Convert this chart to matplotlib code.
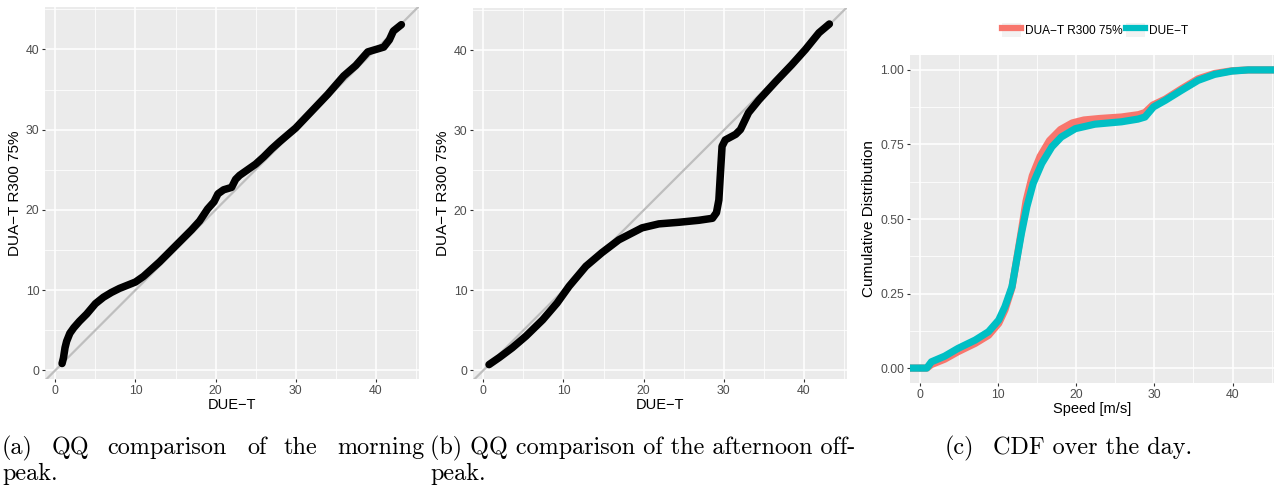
import matplotlib
matplotlib.use("Agg")
import matplotlib.pyplot as plt
from matplotlib.lines import Line2D
from matplotlib.patches import Patch
from matplotlib.legend_handler import HandlerTuple
from matplotlib.font_manager import FontProperties

# QQ data, morning peak (DUE-T quantiles vs DUA-T R300 75% quantiles)
morning_due = [0.83, 1.0, 1.2, 1.4, 1.8, 2.3, 3.0, 3.9, 5.0, 6.0, 7.0, 8.0, 9.0,
               10.0, 11.0, 12.0, 13.0, 14.0, 15.0, 16.0, 17.0, 18.0, 19.0, 19.8,
               20.3, 21.0, 22.0, 22.5, 23.0, 24.0, 25.0, 26.0, 27.0, 28.0, 30.0,
               32.0, 34.0, 36.0, 37.5, 39.0, 40.0, 41.0, 41.7, 42.2, 43.2]
morning_dua = [0.83, 1.5, 2.8, 3.6, 4.6, 5.3, 6.1, 7.0, 8.3, 9.1, 9.7, 10.2, 10.6,
               11.0, 11.7, 12.6, 13.5, 14.5, 15.5, 16.5, 17.5, 18.6, 20.1, 21.0,
               22.0, 22.5, 22.8, 23.8, 24.3, 25.0, 25.7, 26.6, 27.6, 28.5, 30.2,
               32.3, 34.4, 36.7, 38.0, 39.7, 40.0, 40.3, 41.2, 42.3, 43.1]

# QQ data, afternoon off-peak
afternoon_due = [0.7, 2.0, 3.6, 5.3, 7.4, 9.2, 10.7, 12.8, 14.8, 16.9, 19.8, 21.9,
                 24.4, 26.9, 28.6, 29.1, 29.4, 29.6, 29.8, 30.2, 31.5, 32.1, 33.1,
                 34.4, 36.5, 38.5, 40.2, 41.9, 43.2]
afternoon_dua = [0.7, 1.6, 2.8, 4.25, 6.3, 8.4, 10.5, 13.0, 14.7, 16.3, 17.8, 18.3,
                 18.5, 18.75, 19.0, 19.7, 21.3, 24.7, 28.0, 28.8, 29.5, 30.1, 32.2,
                 33.8, 36.1, 38.2, 40.1, 42.2, 43.3]

# CDF over the day
cdf_labels = ["DUA\u2212T R300 75%", "DUE\u2212T"]
cdf_colors = ["#F8766D", "#00BFC4"]
dua_speed = [-2, 0.9, 1.5, 3.2, 4.9, 7.1, 8.8, 10.1, 10.9, 11.8, 12.4, 13.0, 13.6,
             14.4, 15.4, 16.6, 18.0, 19.5, 21.0, 23.0, 25.8, 28.0, 28.8, 29.8,
             31.4, 33.5, 35.6, 37.7, 39.9, 42.0, 47]
dua_cdf = [0.0, 0.0, 0.012, 0.03, 0.055, 0.083, 0.11, 0.15, 0.195, 0.27, 0.365,
           0.46, 0.56, 0.645, 0.71, 0.763, 0.80, 0.822, 0.832, 0.837, 0.842, 0.85,
           0.857, 0.882, 0.902, 0.937, 0.97, 0.988, 0.997, 1.0, 1.0]
due_speed = [-2, 0.9, 1.5, 3.2, 4.9, 7.1, 8.8, 10.1, 10.9, 11.8, 12.4, 13.0, 13.7,
             14.5, 15.6, 16.9, 18.1, 19.9, 22.4, 25.8, 27.9, 28.8, 29.9, 31.4,
             33.5, 35.6, 37.7, 39.9, 42.0, 47]
due_cdf = [0.0, 0.0, 0.021, 0.04, 0.066, 0.094, 0.122, 0.161, 0.206, 0.273, 0.362,
           0.451, 0.541, 0.619, 0.686, 0.742, 0.775, 0.803, 0.818, 0.826, 0.835,
           0.842, 0.876, 0.898, 0.932, 0.965, 0.985, 0.996, 1.0, 1.0]

# caption (a) is justified in the source, so its words get their own x (pixels)
caption_a_words = ["(a)", "QQ", "comparison", "of", "the", "morning"]
caption_a_x = [2, 52, 107, 247, 283, 337]
caption_b = "(b) QQ comparison of the afternoon off-"
caption_c = ["(c)", "CDF over the day."]

SANS = "Liberation Sans"
TICK_GRAY = "#4D4D4D"
W, H = 1276, 492


def gg_style(ax, xlim, ylim, xmajor, ymajor, xminor, yminor):
    # ggplot2 theme_gray look
    ax.set_facecolor("#EBEBEB")
    for s in ax.spines.values():
        s.set_visible(False)
    ax.set_xlim(*xlim)
    ax.set_ylim(*ylim)
    ax.set_xticks(xmajor)
    ax.set_yticks(ymajor)
    ax.set_xticks(xminor, minor=True)
    ax.set_yticks(yminor, minor=True)
    ax.grid(which="major", color="white", lw=1.1)
    ax.grid(which="minor", color="white", lw=0.55)
    ax.set_axisbelow(True)
    ax.tick_params(which="major", length=2.5, width=0.8, color="#333333",
                   labelsize=8.8, labelcolor=TICK_GRAY, pad=1.5)
    ax.tick_params(which="minor", length=0)
    for lab in ax.get_xticklabels() + ax.get_yticklabels():
        lab.set_fontfamily(SANS)


def qq_panel(ax, xs, ys):
    ax.axline((0, 0), slope=1, color="#BEBEBE", lw=1.6, zorder=1)
    ax.plot(xs, ys, color="black", lw=5.4, solid_capstyle="round",
            solid_joinstyle="round", zorder=2)
    gg_style(ax, (-1.3, 45.4), (-1.1, 45.3), [0, 10, 20, 30, 40], [0, 10, 20, 30, 40],
             [5, 15, 25, 35, 45], [5, 15, 25, 35, 45])
    ax.set_xlabel("DUE\u2212T", fontsize=10.5, family=SANS, labelpad=1)
    ax.set_ylabel("DUA\u2212T R300 75%", fontsize=11, family=SANS, labelpad=3)


fig = plt.figure(figsize=(W / 100, H / 100), dpi=100)

ax1 = fig.add_axes([45 / W, 1 - 379 / H, 374 / W, 372 / H])
qq_panel(ax1, morning_due, morning_dua)

ax2 = fig.add_axes([473 / W, 1 - 379 / H, 374 / W, 371 / H])
qq_panel(ax2, afternoon_due, afternoon_dua)

ax3 = fig.add_axes([910 / W, 1 - 383 / H, 364 / W, 328 / H])
ax3.plot(dua_speed, dua_cdf, color=cdf_colors[0], lw=5.2, zorder=2)
ax3.plot(due_speed, due_cdf, color=cdf_colors[1], lw=5.2, zorder=3)
gg_style(ax3, (-1.24, 45.3), (-0.05, 1.05), [0, 10, 20, 30, 40],
         [0, 0.25, 0.5, 0.75, 1.0], [5, 15, 25, 35, 45], [0.125, 0.375, 0.625, 0.875])
ax3.set_yticklabels(["0.00", "0.25", "0.50", "0.75", "1.00"], family=SANS)
ax3.set_xlabel("Speed [m/s]", fontsize=10.5, family=SANS, labelpad=1)
ax3.set_ylabel("Cumulative Distribution", fontsize=11, family=SANS, labelpad=3)

# legend with grey key background like ggplot
handles = [(Patch(fc="#F2F2F2", ec="none"), Line2D([], [], color=c, lw=4.5))
           for c in cdf_colors]
fig.legend(handles, cdf_labels, handler_map={tuple: HandlerTuple(ndivide=1)},
           loc="center", bbox_to_anchor=(1095 / W, 1 - 30 / H), ncol=2,
           frameon=False, prop=FontProperties(family=SANS, size=8.6),
           handlelength=1.6, handleheight=1.5, handletextpad=0.3,
           columnspacing=0.3, borderpad=0)

# sub-figure captions
cap = dict(fontsize=17.4, family="cmr10", va="baseline", ha="left")
for word, x in zip(caption_a_words, caption_a_x):
    fig.text(x / W, 1 - 454 / H, word, **cap)
fig.text(2 / W, 1 - 480 / H, "peak.", **cap)
fig.text(430 / W, 1 - 454 / H, caption_b, **cap)
fig.text(430 / W, 1 - 480 / H, "peak.", **cap)
fig.text(945 / W, 1 - 454 / H, caption_c[0], **cap)
fig.text(993 / W, 1 - 454 / H, caption_c[1], **cap)

fig.savefig("out.png", dpi=100)
